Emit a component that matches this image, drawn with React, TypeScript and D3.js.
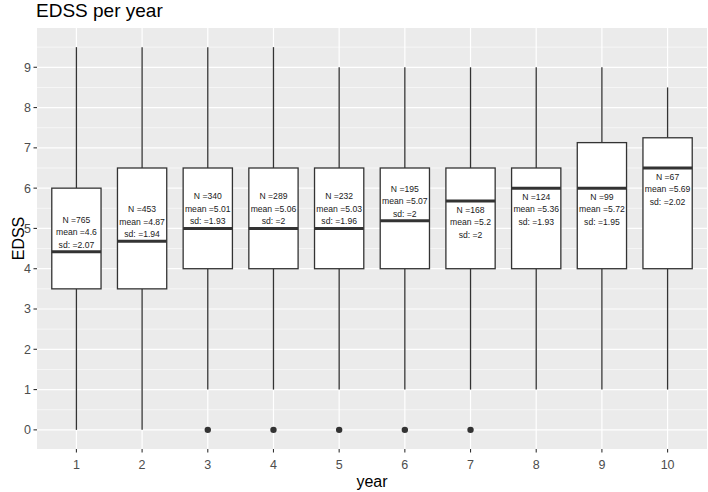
import React, { useRef, useEffect } from 'react';
import * as d3 from 'd3';

// Boxplot summary per year
const years = ['1', '2', '3', '4', '5', '6', '7', '8', '9', '10'];
const lowerWhisker = [0, 0, 1, 1, 1, 1, 1, 1, 1, 1];
const q1 = [3.5, 3.5, 4, 4, 4, 4, 4, 4, 4, 4];
const medians = [4.42, 4.68, 5, 5, 5, 5.19, 5.68, 6, 6, 6.5];
const q3 = [6, 6.5, 6.5, 6.5, 6.5, 6.5, 6.5, 6.5, 7.13, 7.25];
const upperWhisker = [9.5, 9.5, 9.5, 9.5, 9, 9, 9, 9, 9, 8.5];
const outliers = [[], [], [0], [0], [0], [0], [0], [], [], []];

// Annotation text
const counts = ['765', '453', '340', '289', '232', '195', '168', '124', '99', '67'];
const means = ['4.6', '4.87', '5.01', '5.06', '5.03', '5.07', '5.2', '5.36', '5.72', '5.69'];
const sds = ['2.07', '1.94', '1.93', '2', '1.96', '2', '2', '1.93', '1.95', '2.02'];
const labelSide = ['above', 'above', 'above', 'above', 'above', 'above', 'below', 'below', 'below', 'below'];

const yTicks = [0, 1, 2, 3, 4, 5, 6, 7, 8, 9];

const App = () => {
  const chartRef = useRef<HTMLDivElement>(null);

  useEffect(() => {
    document.body.style.margin = '0';

    const width = 708;
    const height = 492;
    const margin = { top: 28, right: 1, bottom: 43, left: 37 };
    const font = '"Liberation Sans", Arial, Helvetica, sans-serif';

    d3.select(chartRef.current).select('svg').remove();

    const svg = d3.select(chartRef.current)
      .append('svg')
      .attr('width', width)
      .attr('height', height)
      .style('display', 'block')
      .style('font-family', font);

    svg.append('rect').attr('width', width).attr('height', height).attr('fill', '#fff');

    const x = d3.scaleBand()
      .domain(years)
      .range([margin.left, width - margin.right])
      .paddingOuter(0.1)
      .paddingInner(0);

    // ggplot-style discrete expansion: 0.6 units each side
    const step = (width - margin.right - margin.left) / (years.length - 1 + 1.2);
    const xc = (d: string) => margin.left + step * (0.6 + years.indexOf(d));

    const y = d3.scaleLinear()
      .domain([-0.475, 9.975])
      .range([height - margin.bottom, margin.top]);

    const boxW = step * 0.75;

    // Panel
    svg.append('rect')
      .attr('x', margin.left)
      .attr('y', margin.top)
      .attr('width', width - margin.right - margin.left)
      .attr('height', height - margin.bottom - margin.top)
      .attr('fill', '#EBEBEB');

    // Minor grid
    const minor = d3.range(-0.5, 10, 1).filter(v => v > -0.475 && v < 9.975);
    svg.append('g').selectAll('line').data(minor).enter().append('line')
      .attr('x1', margin.left).attr('x2', width - margin.right)
      .attr('y1', d => y(d)).attr('y2', d => y(d))
      .attr('stroke', '#fff').attr('stroke-width', 0.6);

    // Major grid
    svg.append('g').selectAll('line').data(yTicks).enter().append('line')
      .attr('x1', margin.left).attr('x2', width - margin.right)
      .attr('y1', d => y(d)).attr('y2', d => y(d))
      .attr('stroke', '#fff').attr('stroke-width', 1.2);

    svg.append('g').selectAll('line').data(years).enter().append('line')
      .attr('x1', d => xc(d)).attr('x2', d => xc(d))
      .attr('y1', margin.top).attr('y2', height - margin.bottom)
      .attr('stroke', '#fff').attr('stroke-width', 1.2);

    const data = years.map((yr, i) => ({
      yr,
      lo: lowerWhisker[i],
      q1: q1[i],
      med: medians[i],
      q3: q3[i],
      hi: upperWhisker[i],
      out: outliers[i],
      n: counts[i],
      mean: means[i],
      sd: sds[i],
      side: labelSide[i],
    }));

    const g = svg.append('g').selectAll('g').data(data).enter().append('g');

    // Whiskers
    g.append('line')
      .attr('x1', d => xc(d.yr)).attr('x2', d => xc(d.yr))
      .attr('y1', d => y(d.hi)).attr('y2', d => y(d.q3))
      .attr('stroke', '#333').attr('stroke-width', 1.3);
    g.append('line')
      .attr('x1', d => xc(d.yr)).attr('x2', d => xc(d.yr))
      .attr('y1', d => y(d.q1)).attr('y2', d => y(d.lo))
      .attr('stroke', '#333').attr('stroke-width', 1.3);

    // Boxes
    g.append('rect')
      .attr('x', d => xc(d.yr) - boxW / 2)
      .attr('y', d => y(d.q3))
      .attr('width', boxW)
      .attr('height', d => y(d.q1) - y(d.q3))
      .attr('fill', '#fff')
      .attr('stroke', '#333')
      .attr('stroke-width', 1.3);

    // Medians
    g.append('line')
      .attr('x1', d => xc(d.yr) - boxW / 2).attr('x2', d => xc(d.yr) + boxW / 2)
      .attr('y1', d => y(d.med)).attr('y2', d => y(d.med))
      .attr('stroke', '#333').attr('stroke-width', 3);

    // Outliers
    g.selectAll('circle').data(d => d.out.map(v => ({ yr: d.yr, v }))).enter().append('circle')
      .attr('cx', d => xc(d.yr)).attr('cy', d => y(d.v)).attr('r', 3.2)
      .attr('fill', '#333');

    // Annotations
    const offsetsAbove = [-32, -19.5, -7];
    const offsetsBelow = [8.6, 21.3, 34];
    g.each(function (d) {
      const lines = [`N =${d.n}`, `mean =${d.mean}`, `sd: =${d.sd}`];
      const offs = d.side === 'above' ? offsetsAbove : offsetsBelow;
      const sel = d3.select(this);
      lines.forEach((t, k) => {
        sel.append('text')
          .attr('x', xc(d.yr))
          .attr('y', y(d.med) + offs[k])
          .attr('dy', '0.35em')
          .attr('text-anchor', 'middle')
          .attr('font-size', 8.6)
          .attr('fill', '#1a1a1a')
          .text(t);
      });
    });

    // Y axis ticks and labels
    const ya = svg.append('g');
    ya.selectAll('line').data(yTicks).enter().append('line')
      .attr('x1', margin.left - 3.5).attr('x2', margin.left)
      .attr('y1', d => y(d)).attr('y2', d => y(d))
      .attr('stroke', '#333').attr('stroke-width', 1.1);
    ya.selectAll('text').data(yTicks).enter().append('text')
      .attr('x', margin.left - 6)
      .attr('y', d => y(d))
      .attr('dy', '0.35em')
      .attr('text-anchor', 'end')
      .attr('font-size', 12.5)
      .attr('fill', '#4D4D4D')
      .text(d => d);

    // X axis ticks and labels
    const xa = svg.append('g');
    xa.selectAll('line').data(years).enter().append('line')
      .attr('x1', d => xc(d)).attr('x2', d => xc(d))
      .attr('y1', height - margin.bottom).attr('y2', height - margin.bottom + 3.5)
      .attr('stroke', '#333').attr('stroke-width', 1.1);
    xa.selectAll('text').data(years).enter().append('text')
      .attr('x', d => xc(d))
      .attr('y', height - margin.bottom + 16)
      .attr('dy', '0.35em')
      .attr('text-anchor', 'middle')
      .attr('font-size', 12.5)
      .attr('fill', '#4D4D4D')
      .text(d => d);

    // Axis titles
    svg.append('text')
      .attr('x', (margin.left + width - margin.right) / 2)
      .attr('y', 487)
      .attr('text-anchor', 'middle')
      .attr('font-size', 16)
      .attr('fill', '#000')
      .text('year');

    svg.append('text')
      .attr('transform', `translate(24, ${(margin.top + height - margin.bottom) / 2}) rotate(-90)`)
      .attr('text-anchor', 'middle')
      .attr('font-size', 16)
      .attr('fill', '#000')
      .text('EDSS');

    // Title
    svg.append('text')
      .attr('x', 36)
      .attr('y', 17)
      .attr('font-size', 19)
      .attr('fill', '#000')
      .text('EDSS per year');

    void x;
  }, []);

  return <div ref={chartRef}></div>;
};

export default App;
